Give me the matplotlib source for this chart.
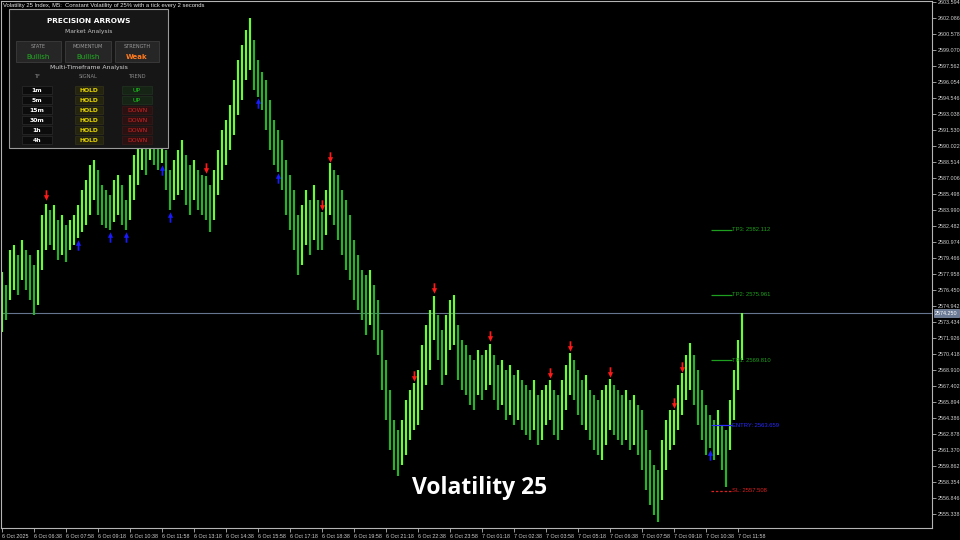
import matplotlib
matplotlib.use("Agg")
import matplotlib.pyplot as plt
from matplotlib.path import Path
from matplotlib.patches import Rectangle
from matplotlib.transforms import blended_transform_factory
import numpy as np

# ---------------- data ----------------
title_text = "Volatility 25 Index, M5:  Constant Volatility of 25% with a tick every 2 seconds"
symbol_label = "Volatility 25"

highs = [
    2578.11, 2576.89, 2580.19, 2580.66, 2579.72, 2581.13, 2580.19, 2579.72, 2578.77, 2580.19,
    2583.49, 2584.52, 2583.96, 2584.43, 2583.02, 2583.49, 2582.54, 2583.02, 2583.49, 2584.43,
    2585.84, 2586.78, 2588.20, 2588.67, 2587.73, 2586.31, 2585.84, 2585.37, 2586.78, 2587.26,
    2586.31, 2584.90, 2587.26, 2589.14, 2590.55, 2591.97, 2591.50, 2592.44, 2591.03, 2590.74,
    2590.55, 2589.61, 2587.73, 2588.67, 2589.61, 2590.55, 2589.14, 2588.20, 2588.67, 2587.73,
    2587.26, 2587.16, 2586.31, 2587.73, 2589.61, 2591.50, 2592.44, 2593.85, 2596.21, 2598.09,
    2599.51, 2600.92, 2602.05, 2599.98, 2598.09, 2596.96, 2596.21, 2594.33, 2592.44, 2591.50,
    2590.55, 2588.67, 2587.26, 2585.84, 2583.49, 2584.43, 2585.84, 2584.90, 2586.31, 2584.90,
    2583.77, 2585.84, 2588.39, 2587.73, 2587.26, 2585.84, 2584.90, 2583.49, 2581.13, 2579.72,
    2578.30, 2577.83, 2578.30, 2576.89, 2575.47, 2572.65, 2569.82, 2566.99, 2564.16, 2563.22,
    2564.16, 2566.05, 2566.99, 2567.65, 2568.88, 2571.23, 2573.12, 2574.53, 2575.85, 2574.06,
    2572.65, 2574.06, 2575.47, 2575.95, 2573.12, 2571.70, 2571.23, 2570.29, 2569.82, 2570.76,
    2570.29, 2570.76, 2571.33, 2570.29, 2569.35, 2569.82, 2568.88, 2569.35, 2568.41, 2568.88,
    2567.93, 2567.46, 2566.99, 2567.93, 2566.52, 2566.99, 2567.46, 2567.93, 2566.99, 2566.52,
    2567.93, 2569.35, 2570.48, 2569.82, 2568.88, 2567.93, 2568.41, 2566.99, 2566.52, 2566.05,
    2566.99, 2567.46, 2568.03, 2567.46, 2566.99, 2566.52, 2566.99, 2566.05, 2566.52, 2565.58,
    2565.11, 2563.22, 2561.34, 2559.92, 2559.45, 2562.28, 2564.16, 2565.11, 2565.11, 2567.46,
    2568.59, 2570.29, 2571.42, 2570.29, 2568.88, 2566.99, 2565.58, 2564.64, 2564.16, 2565.11,
    2563.69, 2563.22, 2566.05, 2568.88, 2571.70, 2574.25,
]

lows = [
    2572.46, 2573.59, 2575.47, 2576.42, 2575.95, 2577.36, 2576.42, 2575.47, 2574.06, 2575.00,
    2578.30, 2580.19, 2580.66, 2580.19, 2579.24, 2579.72, 2579.06, 2580.19, 2580.66, 2581.32,
    2581.88, 2582.54, 2583.49, 2584.90, 2583.49, 2582.54, 2582.26, 2582.07, 2582.83, 2583.49,
    2582.54, 2582.07, 2583.02, 2584.90, 2586.31, 2587.73, 2587.26, 2588.67, 2588.20, 2587.73,
    2588.39, 2585.84, 2583.96, 2584.90, 2585.37, 2585.84, 2584.43, 2583.49, 2584.90, 2583.96,
    2583.49, 2583.02, 2581.88, 2583.02, 2585.37, 2586.78, 2588.20, 2589.61, 2591.03, 2592.91,
    2594.33, 2596.21, 2597.15, 2595.27, 2594.61, 2593.38, 2591.50, 2589.61, 2588.20, 2587.54,
    2585.84, 2583.49, 2582.07, 2580.19, 2577.83, 2578.77, 2580.66, 2579.72, 2581.13, 2580.19,
    2580.19, 2581.60, 2583.49, 2582.54, 2581.13, 2579.72, 2578.30, 2577.36, 2575.47, 2574.53,
    2573.59, 2572.18, 2573.12, 2571.70, 2570.29, 2566.99, 2564.16, 2561.34, 2559.45, 2558.89,
    2559.92, 2560.87, 2562.28, 2563.22, 2563.69, 2565.11, 2567.46, 2568.88, 2571.70, 2569.82,
    2567.46, 2568.41, 2570.76, 2571.23, 2567.93, 2566.99, 2566.52, 2565.58, 2565.11, 2566.52,
    2566.05, 2566.99, 2567.46, 2566.05, 2565.11, 2565.58, 2564.16, 2564.64, 2563.69, 2564.16,
    2563.22, 2562.75, 2562.28, 2563.22, 2561.81, 2562.28, 2563.69, 2564.16, 2562.75, 2562.28,
    2563.22, 2565.11, 2566.52, 2566.05, 2564.64, 2563.69, 2563.22, 2562.28, 2561.34, 2560.87,
    2560.40, 2561.81, 2563.22, 2562.75, 2562.28, 2561.81, 2562.28, 2561.34, 2561.81, 2560.87,
    2559.45, 2557.57, 2556.15, 2555.21, 2554.55, 2556.63, 2559.45, 2561.34, 2561.81, 2563.22,
    2564.64, 2566.05, 2566.99, 2565.58, 2563.69, 2562.28, 2560.87, 2561.53, 2560.40, 2560.87,
    2559.45, 2557.85, 2561.34, 2564.16, 2566.99, 2569.82,
]

sell_idx = [11, 51, 80, 82, 103, 108, 122, 137, 142, 152, 168, 170]
sell_price = [2585.37, 2587.92, 2584.43, 2588.95, 2568.31, 2576.61, 2572.08, 2568.60,
              2571.14, 2568.69, 2565.77, 2569.16]
buy_idx = [19, 27, 31, 40, 42, 64, 69, 177]
buy_price = [2580.66, 2581.41, 2581.41, 2587.73, 2583.30, 2594.04, 2586.97, 2560.87]

price_ticks = [2555.338, 2556.846, 2558.354, 2559.862, 2561.370, 2562.878, 2564.386,
               2565.894, 2567.402, 2568.910, 2570.418, 2571.926, 2573.434, 2574.942,
               2576.450, 2577.958, 2579.466, 2580.974, 2582.482, 2583.990, 2585.498,
               2587.006, 2588.514, 2590.022, 2591.530, 2593.038, 2594.546, 2596.054,
               2597.562, 2599.070, 2600.578, 2602.086, 2603.594]

time_tick_bars = [0, 8, 16, 24, 32, 40, 48, 56, 64, 72, 80, 88, 96, 104, 112, 120,
                  128, 136, 144, 152, 160, 168, 176, 184]
time_labels = ["6 Oct 2025", "6 Oct 06:38", "6 Oct 07:58", "6 Oct 09:18", "6 Oct 10:38",
               "6 Oct 11:58", "6 Oct 13:18", "6 Oct 14:38", "6 Oct 15:58", "6 Oct 17:18",
               "6 Oct 18:38", "6 Oct 19:58", "6 Oct 21:18", "6 Oct 22:38", "6 Oct 23:58",
               "7 Oct 01:18", "7 Oct 02:38", "7 Oct 03:58", "7 Oct 05:18", "7 Oct 06:38",
               "7 Oct 07:58", "7 Oct 09:18", "7 Oct 10:38", "7 Oct 11:58"]

current_price = 2574.250

level_names = ["TP3", "TP2", "TP1", "ENTRY", "SL"]
level_values = [2582.112, 2575.961, 2569.810, 2563.659, 2557.508]
level_start_bar = 177.25
level_end_bar = 182.5

state_headers = ["STATE", "MOMENTUM", "STRENGTH"]
state_values = ["Bullish", "Bullish", "Weak"]
tf_labels = ["1m", "5m", "15m", "30m", "1h", "4h"]
tf_signals = ["HOLD", "HOLD", "HOLD", "HOLD", "HOLD", "HOLD"]
tf_trends = ["UP", "UP", "DOWN", "DOWN", "DOWN", "DOWN"]

assert len(highs) == len(lows)

SMALL = ["Liberation Sans", "DejaVu Sans"]

# ---------------- figure ----------------
W, H = 960, 540
fig = plt.figure(figsize=(W / 100, H / 100), dpi=100, facecolor="black")
ax = fig.add_axes([1 / W, 12 / H, 931 / W, 526.6 / H])
ax.set_facecolor("black")
ax.set_xlim(-0.25, 232.5)
ax.set_ylim(2553.99, 2603.62)

x = np.arange(len(highs))
hi = np.array(highs)
lo = np.array(lows)
mid = (hi + lo) / 2
up = np.concatenate([[True], mid[1:] >= mid[:-1]])
cols = np.where(up, "#66ff33", "#28b428")
ax.vlines(x, lo, hi, colors=cols, linewidth=1.55, zorder=2)

# current price line
ax.axhline(current_price, color="#66758f", lw=0.8, zorder=1)

# arrows
down_verts = [(-0.17, 1.0), (0.17, 1.0), (0.17, 0.05), (0.5, 0.05), (0.0, -1.0),
              (-0.5, 0.05), (-0.17, 0.05), (-0.17, 1.0)]
down_arrow = Path(down_verts, closed=True)
up_arrow = Path([(vx, -vy) for vx, vy in down_verts], closed=True)
ax.plot(sell_idx, sell_price, linestyle="none", marker=down_arrow, markersize=7.5,
        color="#ff1a1a", markeredgewidth=0, zorder=4)
ax.plot(buy_idx, buy_price, linestyle="none", marker=up_arrow, markersize=7.5,
        color="#1a1aff", markeredgewidth=0, zorder=4)

# trade levels
level_colors = ["#1f9f1f", "#1f9f1f", "#1f9f1f", "#2a2aff", "#e02020"]
for name, val, c in zip(level_names, level_values, level_colors):
    ls = (0, (2, 1.5)) if name == "SL" else "-"
    ax.hlines(val, level_start_bar, level_end_bar, colors=c, lw=0.9, linestyles=ls, zorder=3)
    ax.text(level_end_bar, val, f"{name}: {val:.3f}", color=c, fontsize=4.2,
            family=SMALL, va="center", ha="left", zorder=5)

# axes styling
for s in ax.spines.values():
    s.set_color("#b4b4b4")
    s.set_linewidth(0.8)
ax.yaxis.tick_right()
ax.set_yticks(price_ticks)
ax.set_yticklabels([f"{p:.3f}" for p in price_ticks])
ax.set_xticks(time_tick_bars)
ax.set_xticklabels(time_labels)
ax.tick_params(axis="both", colors="#b4b4b4", labelcolor="#d0d0d0", labelsize=3.9,
               length=3, width=0.6, pad=1)
for lab in ax.get_xticklabels() + ax.get_yticklabels():
    lab.set_family(SMALL)
for lab in ax.get_xticklabels():
    lab.set_ha("left")

tr = blended_transform_factory(ax.transAxes, ax.transData)
ax.text(1.003, current_price, f"{current_price:.3f}", transform=tr, fontsize=3.9,
        family=SMALL, color="white", va="center", ha="left", zorder=6, clip_on=False,
        bbox=dict(boxstyle="square,pad=0.2", fc="#6c7b95", ec="#8a98b0", lw=0.5))

# ---------------- overlay (pixel coordinates) ----------------
ov = fig.add_axes([0, 0, 1, 1], zorder=10)
ov.set_xlim(0, W)
ov.set_ylim(H, 0)
ov.axis("off")
ov.patch.set_alpha(0)

ov.text(3, 5, title_text, fontsize=4.2, color="#e6e6e6", va="center", ha="left",
        family=SMALL)
ov.text(480, 488, symbol_label, fontsize=16.5, color="white", fontweight="bold",
        family=["Open Sans", "DejaVu Sans"], ha="center", va="center")

# panel
ov.add_patch(Rectangle((9, 9), 159, 139, fc="#161616", ec="#9a9a9a", lw=0.8))
ov.text(88.5, 21, "PRECISION ARROWS", fontsize=5.3, fontweight="bold", color="white",
        ha="center", va="center")
ov.text(88.5, 32, "Market Analysis", fontsize=4.3, color="#c4c4c4", ha="center", va="center")

box_x = [16, 65, 115]
box_w = [45, 46, 44]
val_cols = ["#22b022", "#22b022", "#ff7a1f"]
for bx, bw, hd, vv, vc in zip(box_x, box_w, state_headers, state_values, val_cols):
    ov.add_patch(Rectangle((bx, 41), bw, 21, fc="#262626", ec="#3c3c3c", lw=0.6))
    ov.text(bx + bw / 2, 46, hd, fontsize=3.6, color="#9a9a9a", ha="center", va="center")
    ov.text(bx + bw / 2, 57, vv, fontsize=5, color=vc, ha="center", va="center",
            fontweight="bold" if vv == "Weak" else "normal")

ov.text(88.5, 67, "Multi-Timeframe Analysis", fontsize=4.4, color="#d4d4d4",
        ha="center", va="center")
for cx, hd in zip([37, 88, 137], ["TF", "SIGNAL", "TREND"]):
    ov.text(cx, 76, hd, fontsize=3.7, color="#8a8a8a", ha="center", va="center")

for r, (tf, sg, trd) in enumerate(zip(tf_labels, tf_signals, tf_trends)):
    yy = 90 + 10 * r
    ov.add_patch(Rectangle((22, yy - 3.6), 30, 7.2, fc="#0c0c0c", ec="#2c2c2c", lw=0.5))
    ov.text(37, yy, tf, fontsize=4.4, color="white", fontweight="bold",
            ha="center", va="center")
    ov.add_patch(Rectangle((75, yy - 3.6), 28, 7.2, fc="#24240f", ec="#33331a", lw=0.5))
    ov.text(89, yy, sg, fontsize=4.4, color="#e6d400", fontweight="bold",
            ha="center", va="center")
    is_up = trd == "UP"
    ov.add_patch(Rectangle((122, yy - 3.6), 30, 7.2, fc="#152415" if is_up else "#2a1212",
                           ec="#223322" if is_up else "#3a1a1a", lw=0.5))
    ov.text(137, yy, trd, fontsize=4.4, color="#1fcc1f" if is_up else "#d42020",
            ha="center", va="center")

fig.savefig("out.png", dpi=100, facecolor="black")
